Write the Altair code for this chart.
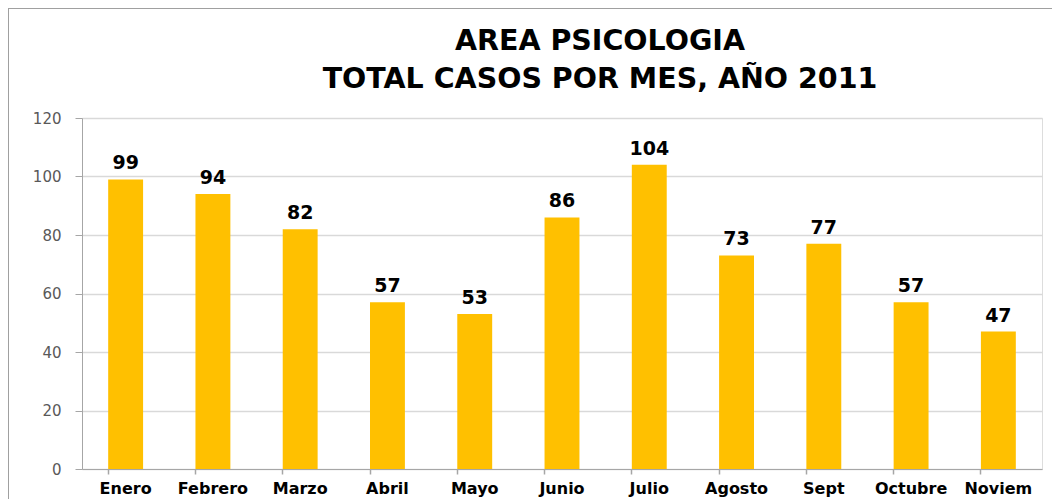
import altair as alt
import pandas as pd

months = ["Enero", "Febrero", "Marzo", "Abril", "Mayo", "Junio", "Julio",
          "Agosto", "Sept", "Octubre", "Noviem"]
casos = [99, 94, 82, 57, 53, 86, 104, 73, 77, 57, 47]
title_lines = ["AREA PSICOLOGIA", "TOTAL CASOS POR MES, AÑO 2011"]

df = pd.DataFrame({"mes": months, "casos": casos})

FONT = "DejaVu Sans"

x = alt.X("mes:N", sort=months, title=None,
          scale=alt.Scale(paddingInner=0.6, paddingOuter=0.3),
          axis=alt.Axis(labelAngle=0, labelFont=FONT, labelFontSize=16,
                        labelFontWeight="bold", labelColor="#000000",
                        labelPadding=6, tickSize=5, tickColor="#a6a6a6",
                        domainColor="#a6a6a6", bandPosition=0, ticks=True,
                        tickWidth=1.5, grid=False))
y = alt.Y("casos:Q", title=None,
          scale=alt.Scale(domain=[0, 120], nice=False),
          axis=alt.Axis(values=[0, 20, 40, 60, 80, 100, 120], labelFont=FONT,
                        labelFontSize=15, labelColor="#595959", labelPadding=14,
                        tickSize=7, tickColor="#a6a6a6", domainColor="#a6a6a6",
                        grid=True, gridColor="#d9d9d9", gridWidth=1.5))

bars = alt.Chart(df).mark_bar(color="#FFC000").encode(x=x, y=y)
labels = alt.Chart(df).mark_text(dy=-10, font=FONT, fontSize=19,
                                 fontWeight="bold", color="#000000",
                                 baseline="alphabetic").encode(
    x=alt.X("mes:N", sort=months), y="casos:Q", text="casos:Q")

frame = alt.Chart(alt.Data(values=[{"a": 1}])).mark_rect(
    fill="transparent", stroke="#a0a0a0", strokeWidth=2).encode(
    x=alt.value(-74), x2=alt.value(1000), y=alt.value(-110), y2=alt.value(420))

title1 = alt.Chart(alt.Data(values=[{"t": title_lines[0]}])).mark_text(
    font=FONT, fontSize=28.5, fontWeight="bold", color="#000000",
    baseline="alphabetic", align="center").encode(
    x=alt.value(518), y=alt.value(-68), text="t:N")
title2 = alt.Chart(alt.Data(values=[{"t": title_lines[1]}])).mark_text(
    font=FONT, fontSize=28.5, fontWeight="bold", color="#000000",
    baseline="alphabetic", align="center").encode(
    x=alt.value(518), y=alt.value(-30), text="t:N")

chart = alt.layer(bars, labels, frame, title1, title2).properties(
    width=960, height=351,
    autosize=alt.AutoSizeParams(type="none"),
    padding={"left": 74, "top": 110, "right": 10, "bottom": 30},
).configure_view(stroke=None).configure(background="white")

chart.save("out.html", embed_options={"renderer": "svg", "actions": False})
